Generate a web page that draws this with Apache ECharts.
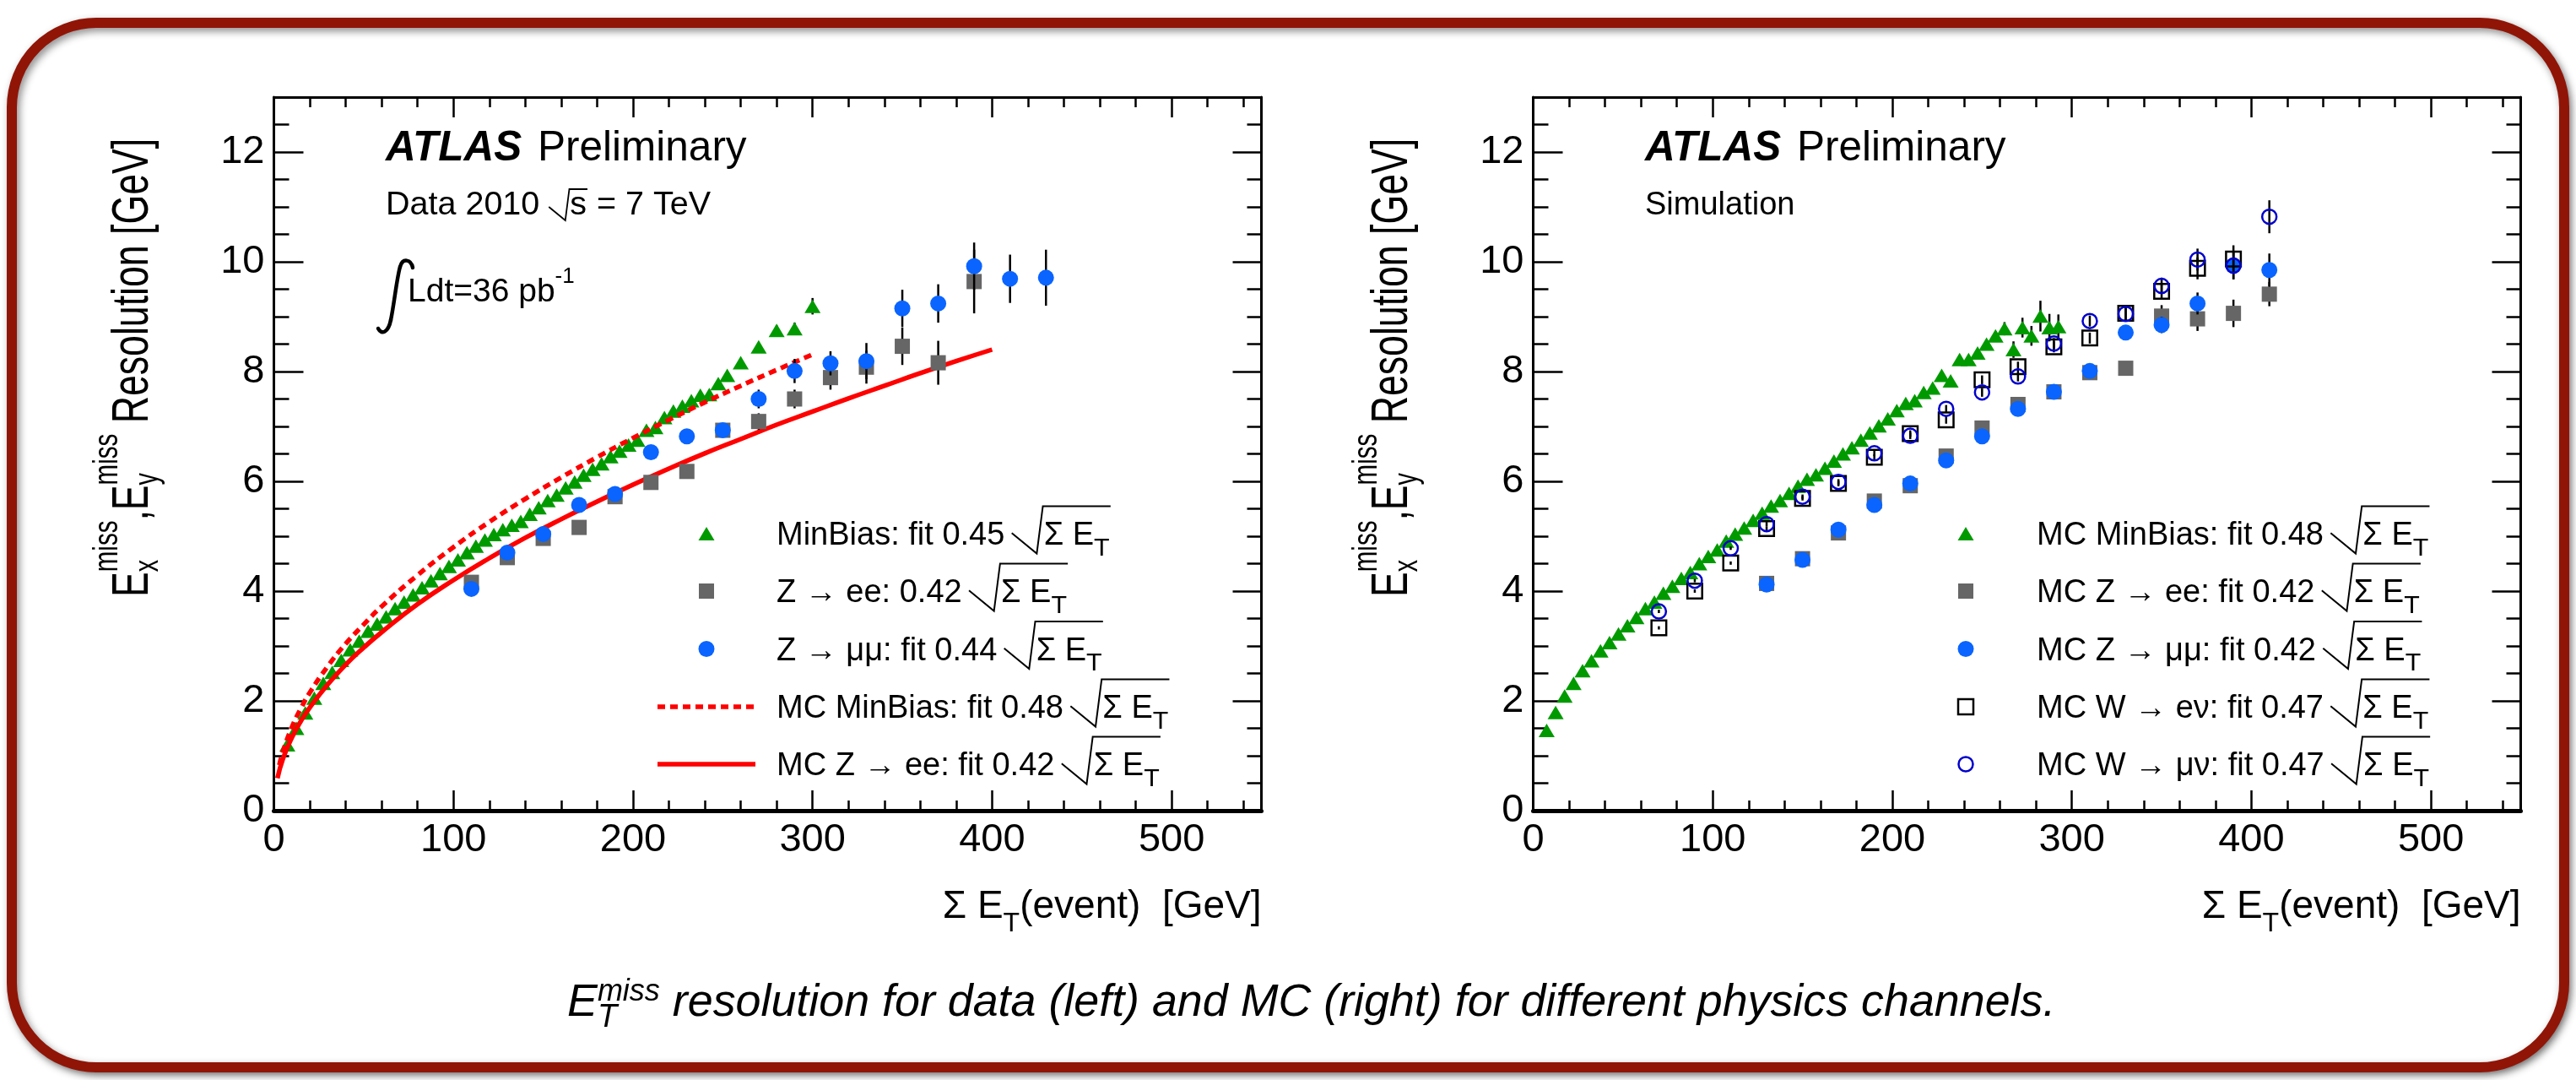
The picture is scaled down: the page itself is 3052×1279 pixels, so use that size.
<!DOCTYPE html>
<html>
<head>
<meta charset="utf-8">
<title>ETmiss resolution</title>
<script src="https://cdn.jsdelivr.net/npm/echarts@6/dist/echarts.min.js"></script>
<style>
html,body{margin:0;padding:0;background:#ffffff;}
#chart{width:3052px;height:1279px;}
</style>
</head>
<body>
<div id="chart"></div>
<script>
// ================= DATA =================
// axis ticks
const xTickValues = [0, 100, 200, 300, 400, 500];
const yTickValues = [0, 2, 4, 6, 8, 10, 12];
const X_MAX = 550, X_MAJOR = 100, X_MINOR = 20;
const Y_MAX = 13, Y_MAJOR = 2, Y_MINOR = 0.5;

// ---- left panel: Data 2010 ----
const leftMinBiasX = [7.5,12.5,17.5,22.5,27.5,32.5,37.5,42.5,47.5,52.5,57.5,62.5,67.5,72.5,77.5,82.5,87.5,92.5,97.5,102.5,107.5,112.5,117.5,122.5,127.5,132.5,137.5,142.5,147.5,152.5,157.5,162.5,167.5,172.5,177.5,182.5,187.5,192.5,197.5,202.5,207.5,212.5,217.5,222.5,227.5,232.5,237.5,242.5,247.5,252.5,260,270,280,290,300];
const leftMinBiasY = [1.20,1.50,1.78,2.05,2.32,2.52,2.74,2.93,3.09,3.27,3.40,3.53,3.68,3.80,3.93,4.06,4.19,4.32,4.45,4.57,4.70,4.82,4.93,5.03,5.12,5.20,5.27,5.40,5.52,5.65,5.75,5.88,5.99,6.11,6.22,6.32,6.45,6.55,6.66,6.75,6.93,6.98,7.16,7.28,7.37,7.47,7.57,7.58,7.78,7.93,8.16,8.45,8.75,8.78,9.19];
const leftMinBiasErr = [0.02,0.02,0.02,0.02,0.02,0.02,0.02,0.02,0.02,0.02,0.02,0.02,0.02,0.02,0.02,0.02,0.02,0.02,0.02,0.02,0.02,0.02,0.02,0.02,0.02,0.02,0.02,0.02,0.02,0.02,0.02,0.02,0.02,0.02,0.02,0.02,0.02,0.02,0.02,0.02,0.02,0.02,0.02,0.02,0.03,0.03,0.03,0.03,0.03,0.03,0.05,0.07,0.09,0.11,0.15];

const leftZeeX = [110,130,150,170,190,210,230,250,270,290,310,330,350,370,390];
const leftZeeY = [4.16,4.61,4.96,5.16,5.72,5.98,6.18,6.93,7.09,7.50,7.89,8.08,8.46,8.16,9.64];
const leftZeeErr = [0.05,0.05,0.05,0.06,0.07,0.08,0.10,0.12,0.15,0.17,0.22,0.30,0.34,0.40,0.58];

const leftZmmX = [110,130,150,170,190,210,230,250,270,290,310,330,350,370,390,410,430];
const leftZmmY = [4.04,4.70,5.04,5.57,5.77,6.53,6.82,6.93,7.50,8.01,8.15,8.19,9.15,9.24,9.92,9.69,9.71];
const leftZmmErr = [0.05,0.05,0.05,0.06,0.07,0.08,0.08,0.10,0.17,0.22,0.22,0.33,0.34,0.35,0.43,0.44,0.51];

const leftMcMinBiasFitX = [3,5,10,15,20,30,40,50,60,80,100,120,140,160,180,200,220,240,260,280,300];
const leftMcMinBiasFitY = [0.83,1.07,1.52,1.86,2.15,2.63,3.04,3.39,3.72,4.29,4.80,5.26,5.68,6.07,6.44,6.79,7.12,7.44,7.74,8.03,8.31];
const leftMcZeeFitX = [2,5,10,15,20,30,40,50,60,80,100,120,140,160,180,200,220,240,260,280,300,320,340,360,380,400];
const leftMcZeeFitY = [0.59,0.94,1.33,1.63,1.88,2.30,2.66,2.97,3.25,3.76,4.20,4.60,4.97,5.31,5.63,5.94,6.23,6.51,6.77,7.03,7.27,7.51,7.74,7.97,8.19,8.40];

// ---- right panel: Simulation ----
const rightMinBiasX = [7.5,12.5,17.5,22.5,27.5,32.5,37.5,42.5,47.5,52.5,57.5,62.5,67.5,72.5,77.5,82.5,87.5,92.5,97.5,102.5,107.5,112.5,117.5,122.5,127.5,132.5,137.5,142.5,147.5,152.5,157.5,162.5,167.5,172.5,177.5,182.5,187.5,192.5,197.5,202.5,207.5,212.5,217.5,222.5,227.5,232.5,237.5,242.5,247.5,252.5,257.5,262.5,267.5,272.5,277.5,282.5,287.5,292.5];
const rightMinBiasY = [1.46,1.79,2.09,2.32,2.55,2.73,2.91,3.06,3.22,3.37,3.52,3.68,3.80,3.96,4.09,4.23,4.34,4.50,4.63,4.75,4.91,5.04,5.15,5.29,5.42,5.55,5.65,5.78,5.91,6.04,6.12,6.24,6.37,6.50,6.61,6.75,6.88,7.01,7.14,7.29,7.42,7.47,7.62,7.70,7.93,7.83,8.22,8.22,8.34,8.50,8.65,8.78,8.40,8.80,8.65,9.01,8.80,8.82];
const rightMinBiasErr = [0.03,0.03,0.03,0.03,0.03,0.03,0.03,0.03,0.03,0.03,0.03,0.03,0.03,0.03,0.03,0.03,0.03,0.03,0.03,0.03,0.03,0.03,0.03,0.03,0.03,0.03,0.03,0.03,0.03,0.03,0.03,0.03,0.03,0.03,0.03,0.03,0.03,0.03,0.03,0.03,0.05,0.05,0.05,0.05,0.05,0.05,0.05,0.05,0.05,0.05,0.08,0.12,0.15,0.18,0.18,0.28,0.25,0.22];

const rightZeeX = [130,150,170,190,210,230,250,270,290,310,330,350,370,390,410];
const rightZeeY = [4.14,4.59,5.06,5.64,5.92,6.46,6.97,7.40,7.63,7.98,8.06,9.01,8.96,9.06,9.41];
const rightZeeErr = [0.03,0.04,0.04,0.05,0.05,0.06,0.07,0.08,0.08,0.10,0.10,0.20,0.22,0.25,0.22];

const rightZmmX = [130,150,170,190,210,230,250,270,290,310,330,350,370,390,410];
const rightZmmY = [4.12,4.57,5.12,5.57,5.96,6.38,6.82,7.32,7.63,8.01,8.71,8.85,9.24,9.93,9.85];
const rightZmmErr = [0.03,0.04,0.04,0.05,0.05,0.06,0.07,0.08,0.08,0.10,0.12,0.15,0.20,0.25,0.30];

const rightWenX = [70,90,110,130,150,170,190,210,230,250,270,290,310,330,350,370,390];
const rightWenY = [3.33,4.00,4.51,5.14,5.69,5.96,6.44,6.87,7.12,7.85,8.09,8.45,8.61,9.06,9.46,9.88,10.05];
const rightWenErr = [0.03,0.03,0.03,0.04,0.04,0.05,0.05,0.06,0.07,0.08,0.09,0.10,0.10,0.12,0.15,0.20,0.25];

const rightWmnX = [70,90,110,130,150,170,190,210,230,250,270,290,310,330,350,370,390,410];
const rightWmnY = [3.63,4.19,4.78,5.22,5.72,5.99,6.51,6.83,7.32,7.62,7.91,8.51,8.92,9.05,9.56,10.04,9.93,10.82];
const rightWmnErr = [0.03,0.03,0.03,0.04,0.04,0.05,0.05,0.06,0.07,0.08,0.09,0.10,0.10,0.12,0.15,0.20,0.25,0.30];

// legend / annotation texts
const leftLegendLabels = ['MinBias: fit 0.45', 'Z \u2192 ee: 0.42', 'Z \u2192 \u03bc\u03bc: fit 0.44', 'MC MinBias: fit 0.48', 'MC Z \u2192 ee: fit 0.42'];
const rightLegendLabels = ['MC MinBias: fit 0.48', 'MC Z \u2192 ee: fit 0.42', 'MC Z \u2192 \u03bc\u03bc: fit 0.42', 'MC W \u2192 e\u03bd: fit 0.47', 'MC W \u2192 \u03bc\u03bd: fit 0.47'];
const captionText = ' resolution for data (left) and MC (right) for different physics channels.';

// ================= STYLE / LAYOUT =================
const FONT_FAMILY = '"Liberation Sans", Arial, Helvetica, sans-serif';
const GRIDS = [
  {left: 324.5, top: 115, width: 1170, height: 845},
  {left: 1816.5, top: 115, width: 1170, height: 845}
];
const C_GREEN = '#009a00', C_GRAY = '#666666', C_BLUE = '#0a64ff', C_NAVY = '#0000cc', C_RED = '#ff0000';

// ---------- text helpers ----------
const cv = document.createElement('canvas').getContext('2d');
const midCache = {};
function fnt(size, style) { return (style ? style + ' ' : '') + size + 'px ' + FONT_FAMILY; }
function textW(t, f) { cv.font = f; return cv.measureText(t).width; }
function midOff(f) {
  if (midCache[f] != null) return midCache[f];
  cv.font = f; cv.textBaseline = 'alphabetic';
  const a = cv.measureText('H').actualBoundingBoxAscent;
  cv.textBaseline = 'middle';
  const b = cv.measureText('H').actualBoundingBoxAscent;
  cv.textBaseline = 'alphabetic';
  midCache[f] = a - b;
  return midCache[f];
}
// compose runs into graphic children, local origin at left end of baseline
function compose(runs, color) {
  color = color || '#000';
  const kids = [];
  let x = 0, rad = null, stackW = 0;
  for (const r of runs) {
    if (r.gap) x += r.gap;
    if (r.rad) { rad = {rx: x, s: r.s}; x += 1.0 * r.s; continue; }
    if (r.radEnd) {
      const s = rad.s, rx = rad.rx, end = x + (r.pad || 0);
      kids.push({type: 'polyline', shape: {points: [[rx, -0.36 * s], [rx + 0.78 * s, 0.28 * s], [rx + 0.97 * s, -1.2 * s], [end, -1.2 * s]]},
        style: {stroke: color, fill: null, lineWidth: r.lw || 2}});
      x = end; continue;
    }
    if (r.t == null) continue;
    const f = fnt(r.s, r.st);
    const w = textW(r.t, f);
    kids.push({type: 'text', x: x, y: (r.dy || 0) - midOff(f),
      style: {text: r.t, font: f, fill: r.fill || color, align: 'left', verticalAlign: 'middle'}});
    if (r.stack) { stackW = Math.max(stackW, w); }
    else { x += Math.max(w, stackW); stackW = 0; }
  }
  return {kids, width: x};
}
function group(x, y, runs, extra) {
  extra = extra || {};
  const c = compose(runs, extra.color);
  const g = {type: 'group', x: x, y: y, z: 100, children: c.kids};
  if (extra.rotation != null) g.rotation = extra.rotation;
  if (extra.scaleX != null) g.scaleX = extra.scaleX;
  if (extra.alignRight) g.x = x - c.width * (extra.scaleX || 1);
  return g;
}
const LS = 38; // legend text size
function fitRuns(prefix) {
  return [{t: prefix, s: LS}, {gap: 0.22 * LS}, {rad: true, s: LS}, {t: '\u03a3 E', s: LS},
          {t: 'T', s: 0.8 * LS, dy: 0.33 * LS}, {radEnd: true, pad: 0.03 * LS}];
}
function marker(kind, cx, cy) {
  switch (kind) {
    case 'tri': return {type: 'polygon', z: 100, shape: {points: [[cx, cy - 8], [cx + 9.5, cy + 8], [cx - 9.5, cy + 8]]}, style: {fill: C_GREEN}};
    case 'sq': return {type: 'rect', z: 100, shape: {x: cx - 9, y: cy - 9, width: 18, height: 18}, style: {fill: C_GRAY}};
    case 'dot': return {type: 'circle', z: 100, shape: {cx, cy, r: 9.5}, style: {fill: C_BLUE}};
    case 'osq': return {type: 'rect', z: 100, shape: {x: cx - 9, y: cy - 9, width: 18, height: 18}, style: {fill: null, stroke: '#000', lineWidth: 2.5}};
    case 'ocirc': return {type: 'circle', z: 100, shape: {cx, cy, r: 8.5}, style: {fill: null, stroke: C_NAVY, lineWidth: 2.5}};
    case 'dash': return {type: 'line', z: 100, shape: {x1: cx - 58, y1: cy, x2: cx + 58, y2: cy}, style: {stroke: C_RED, lineWidth: 5.5, lineDash: [9, 6]}};
    case 'solid': return {type: 'line', z: 100, shape: {x1: cx - 58, y1: cy, x2: cx + 58, y2: cy}, style: {stroke: C_RED, lineWidth: 5.5}};
  }
}

// ================= GRAPHIC ELEMENTS =================
const gfx = [];
// slide frame
gfx.push({type: 'rect', z: -100, silent: true, shape: {x: 14, y: 27, width: 3024, height: 1237, r: 100},
  style: {fill: '#ffffff', stroke: '#901507', lineWidth: 12, shadowBlur: 10, shadowOffsetX: 3, shadowOffsetY: 4, shadowColor: 'rgba(0,0,0,0.45)'}});

const legendBase = [645, 713, 781.5, 850, 918];
const leftKinds = ['tri', 'sq', 'dot', 'dash', 'solid'];
const rightKinds = ['tri', 'sq', 'dot', 'osq', 'ocirc'];
for (let i = 0; i < 5; i++) {
  gfx.push(marker(leftKinds[i], 837, legendBase[i] - 13));
  gfx.push(group(920, legendBase[i], fitRuns(leftLegendLabels[i])));
  gfx.push(marker(rightKinds[i], 2329, legendBase[i] - 13));
  gfx.push(group(2413, legendBase[i], fitRuns(rightLegendLabels[i])));
}

// ATLAS labels
for (const gx of [457, 1949]) {
  gfx.push(group(gx, 190, [{t: 'ATLAS', s: 49.5, st: 'italic bold'}, {t: ' Preliminary', s: 49.5, gap: 5}]));
}
gfx.push(group(457, 254, [{t: 'Data 2010 ', s: 39.5}, {rad: true, s: 25}, {t: 's', s: 39.5}, {radEnd: true, pad: 1, lw: 1.8}, {t: ' = 7 TeV', s: 39.5}]));
gfx.push(group(1949, 254, [{t: 'Simulation', s: LS}]));
// integral luminosity sign
const integralSegs = [
  [489, 317, 487, 307, 477, 305, 474, 316],
  [474, 316, 470, 330, 467, 360, 463, 379],
  [463, 379, 460, 394, 452, 397, 448, 389]
];
for (const s of integralSegs) {
  gfx.push({type: 'bezierCurve', z: 100, shape: {x1: s[0], y1: s[1], cpx1: s[2], cpy1: s[3], cpx2: s[4], cpy2: s[5], x2: s[6], y2: s[7]},
    style: {fill: null, stroke: '#000', lineWidth: 4.5, lineCap: 'round'}});
}
gfx.push(group(483, 357, [{t: 'Ldt=36 pb', s: 39}, {t: '-1', s: 26, dy: -22}]));

// axis titles
for (let g = 0; g < 2; g++) {
  const gr = GRIDS[g];
  const right = gr.left + gr.width;
  gfx.push(group(right, 1087, [{t: '\u03a3 E', s: 46}, {t: 'T', s: 32, dy: 16}, {t: '(event)  [GeV]', s: 46}], {alignRight: true}));
  gfx.push(group(gr.left - 149.5, 707, [
    {t: 'E', s: 62}, {t: 'miss', s: 41, dy: -36, stack: true}, {t: 'x', s: 40, dy: 12},
    {t: ',', s: 62},
    {t: 'E', s: 62}, {t: 'miss', s: 41, dy: -36, stack: true}, {t: 'y', s: 40, dy: 12},
    {t: ' Resolution [GeV]', s: 62}
  ], {rotation: Math.PI / 2, scaleX: 0.72}));
}
// caption
gfx.push(group(672, 1203, [
  {t: 'E', s: 53.8, st: 'italic'}, {t: 'miss', s: 36, st: 'italic', dy: -18, stack: true}, {t: 'T', s: 38, st: 'italic', dy: 13},
  {t: captionText, s: 53.8, st: 'italic'}
]));

// ================= AXES =================
const xAxes = [], yAxes = [];
function axesFor(g) {
  const common = {type: 'value', gridIndex: g, splitLine: {show: false}, min: 0};
  const ts = {color: '#000', width: 2.5};
  const lbl = {show: true, fontSize: 47, fontFamily: FONT_FAMILY, color: '#000'};
  xAxes.push(
    Object.assign({}, common, {max: X_MAX, interval: X_MAJOR, position: 'bottom',
      axisLine: {show: true, onZero: false, lineStyle: {color: '#000', width: 5}},
      axisTick: {show: true, inside: true, length: 24, lineStyle: ts},
      axisLabel: Object.assign({}, lbl, {margin: 12, formatter: v => xTickValues.indexOf(v) >= 0 ? String(v) : ''})}),
    Object.assign({}, common, {max: X_MAX, interval: X_MINOR, position: 'bottom',
      axisLine: {show: false, onZero: false}, axisTick: {show: true, inside: true, length: 12, lineStyle: ts}, axisLabel: {show: false}}),
    Object.assign({}, common, {max: X_MAX, interval: X_MAJOR, position: 'top',
      axisLine: {show: true, onZero: false, lineStyle: {color: '#000', width: 3}},
      axisTick: {show: true, inside: true, length: 24, lineStyle: ts}, axisLabel: {show: false}}),
    Object.assign({}, common, {max: X_MAX, interval: X_MINOR, position: 'top',
      axisLine: {show: false, onZero: false}, axisTick: {show: true, inside: true, length: 12, lineStyle: ts}, axisLabel: {show: false}})
  );
  yAxes.push(
    Object.assign({}, common, {max: Y_MAX, interval: Y_MAJOR, position: 'left',
      axisLine: {show: true, onZero: false, lineStyle: {color: '#000', width: 3}},
      axisTick: {show: true, inside: true, length: 35, lineStyle: ts},
      axisLabel: Object.assign({}, lbl, {margin: 11, formatter: v => yTickValues.indexOf(v) >= 0 ? String(v) : ''})}),
    Object.assign({}, common, {max: Y_MAX, interval: Y_MINOR, position: 'left',
      axisLine: {show: false, onZero: false}, axisTick: {show: true, inside: true, length: 18, lineStyle: ts}, axisLabel: {show: false}}),
    Object.assign({}, common, {max: Y_MAX, interval: Y_MAJOR, position: 'right',
      axisLine: {show: true, onZero: false, lineStyle: {color: '#000', width: 3}},
      axisTick: {show: true, inside: true, length: 34, lineStyle: ts}, axisLabel: {show: false}}),
    Object.assign({}, common, {max: Y_MAX, interval: Y_MINOR, position: 'right',
      axisLine: {show: false, onZero: false}, axisTick: {show: true, inside: true, length: 17, lineStyle: ts}, axisLabel: {show: false}})
  );
}
axesFor(0); axesFor(1);

// ================= SERIES =================
const series = [];
function zip2(xs, ys) { return xs.map((x, i) => [x, ys[i]]); }
function errSeries(g, xs, ys, es, z) {
  series.push({type: 'custom', xAxisIndex: g * 4, yAxisIndex: g * 4, z: z, silent: true,
    data: xs.map((x, i) => [x, ys[i], es[i]]), encode: {x: 0, y: 1},
    renderItem: function (params, api) {
      const x = api.value(0), y = api.value(1), e = api.value(2);
      const a = api.coord([x, y - e]), b = api.coord([x, y + e]);
      return {type: 'line', shape: {x1: a[0], y1: a[1], x2: b[0], y2: b[1]}, style: {stroke: '#000', lineWidth: 2.5}};
    }});
}
function scatter(g, name, xs, ys, symbol, size, itemStyle, z) {
  series.push({type: 'scatter', name: name, xAxisIndex: g * 4, yAxisIndex: g * 4, z: z, silent: true,
    data: zip2(xs, ys), symbol: symbol, symbolSize: size, itemStyle: Object.assign({opacity: 1}, itemStyle)});
}
// left
errSeries(0, leftMinBiasX, leftMinBiasY, leftMinBiasErr, 2);
scatter(0, 'MinBias', leftMinBiasX, leftMinBiasY, 'triangle', [19, 16], {color: C_GREEN}, 3);
series.push({type: 'line', name: 'MC MinBias fit', xAxisIndex: 0, yAxisIndex: 0, z: 4, silent: true, smooth: true, showSymbol: false,
  data: zip2(leftMcMinBiasFitX, leftMcMinBiasFitY), lineStyle: {color: C_RED, width: 5.5, type: [9, 6]}});
series.push({type: 'line', name: 'MC Z->ee fit', xAxisIndex: 0, yAxisIndex: 0, z: 4, silent: true, smooth: true, showSymbol: false,
  data: zip2(leftMcZeeFitX, leftMcZeeFitY), lineStyle: {color: C_RED, width: 5.5}});
errSeries(0, leftZeeX, leftZeeY, leftZeeErr, 5);
scatter(0, 'Z->ee', leftZeeX, leftZeeY, 'rect', 18, {color: C_GRAY}, 6);
errSeries(0, leftZmmX, leftZmmY, leftZmmErr, 7);
scatter(0, 'Z->mumu', leftZmmX, leftZmmY, 'circle', 19, {color: C_BLUE}, 8);
// right
errSeries(1, rightMinBiasX, rightMinBiasY, rightMinBiasErr, 2);
scatter(1, 'MC MinBias', rightMinBiasX, rightMinBiasY, 'triangle', [19, 16], {color: C_GREEN}, 3);
errSeries(1, rightZeeX, rightZeeY, rightZeeErr, 4);
scatter(1, 'MC Z->ee', rightZeeX, rightZeeY, 'rect', 18, {color: C_GRAY}, 5);
errSeries(1, rightZmmX, rightZmmY, rightZmmErr, 6);
scatter(1, 'MC Z->mumu', rightZmmX, rightZmmY, 'circle', 19, {color: C_BLUE}, 7);
errSeries(1, rightWenX, rightWenY, rightWenErr, 8);
scatter(1, 'MC W->enu', rightWenX, rightWenY, 'rect', 17.5, {color: 'rgba(0,0,0,0)', borderColor: '#000', borderWidth: 2.5}, 9);
errSeries(1, rightWmnX, rightWmnY, rightWmnErr, 10);
scatter(1, 'MC W->munu', rightWmnX, rightWmnY, 'circle', 17, {color: 'rgba(0,0,0,0)', borderColor: C_NAVY, borderWidth: 2.5}, 11);

// ================= CHART =================
const chart = echarts.init(document.getElementById('chart'), null, {renderer: 'canvas', width: 3052, height: 1279});
chart.setOption({
  animation: false,
  backgroundColor: '#ffffff',
  grid: GRIDS.map(g => Object.assign({containLabel: false, outerBoundsMode: 'none'}, g)),
  xAxis: xAxes,
  yAxis: yAxes,
  series: series,
  graphic: {elements: gfx}
});
</script>
</body>
</html>
